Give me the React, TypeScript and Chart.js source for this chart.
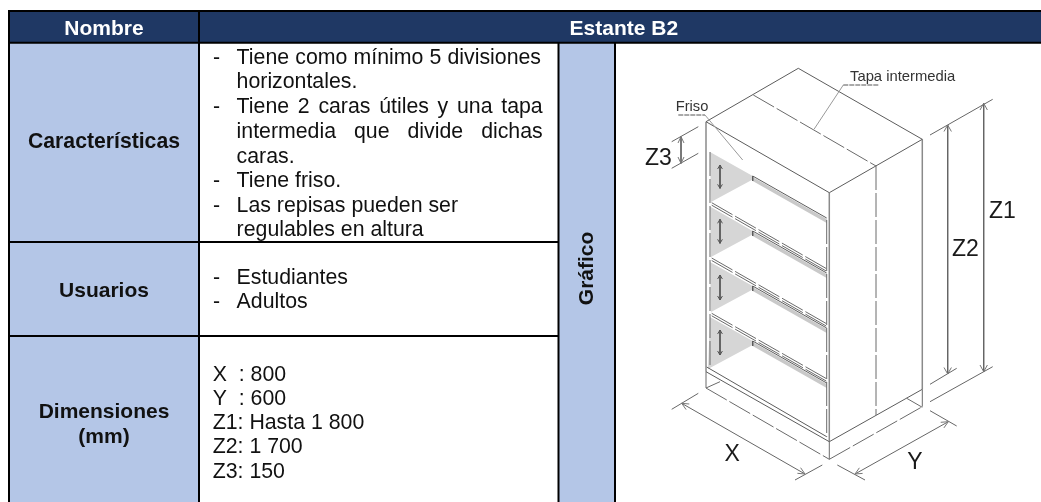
import React, { useEffect, useRef } from "react";
import { Chart, registerables } from "chart.js";

Chart.register(...registerables);

// ---- content ----
const HEADER_LABELS = ["Nombre", "Estante B2"];
const ROW_LABELS = ["Características", "Usuarios", "Dimensiones", "(mm)"];
const SIDE_LABEL = "Gráfico";
const FEATURE_LINES = [
  "Tiene como mínimo 5 divisiones",
  "horizontales.",
  "Tiene 2 caras útiles y una tapa",
  "intermedia que divide dichas",
  "caras.",
  "Tiene friso.",
  "Las repisas pueden ser",
  "regulables en altura",
];
const USER_LINES = ["Estudiantes", "Adultos"];
const DIMENSION_LINES = ["X  : 800", "Y  : 600", "Z1: Hasta 1 800", "Z2: 1 700", "Z3: 150"];
const DIAGRAM_NOTES = ["Friso", "Tapa intermedia"];
const DIAGRAM_SYMBOLS = ["Z1", "Z2", "Z3", "X", "Y"];

// ---- drawing data, in the units of the x and y scales ----
type P = [number, number];
const CELL_HEADER: P[] = [[9, 11], [1041, 11], [1041, 42.7], [9, 42.7]];
const CELL_LABELS: P[] = [[9, 42.7], [199, 42.7], [199, 502], [9, 502]];
const CELL_SIDE: P[] = [[558.5, 42.7], [615, 42.7], [615, 502], [558.5, 502]];
const TABLE_RULES: P[][] = [
  [[9, 11], [1041, 11]],
  [[9, 42.7], [1041, 42.7]],
  [[9, 10], [9, 502]],
  [[199, 11], [199, 502]],
  [[558.5, 42.7], [558.5, 502]],
  [[615, 42.7], [615, 502]],
  [[9, 242], [558.5, 242]],
  [[9, 336], [558.5, 336]],
];
const SIDE_TRIANGLES: P[][] = [
  [[710, 152], [752.7, 176], [752.7, 179.5], [711, 202]],
  [[710, 206.5], [752.7, 231], [752.7, 234.5], [711, 257]],
  [[710, 262], [752.7, 286], [752.7, 289.5], [711, 312]],
  [[710, 317], [752.7, 341], [752.7, 345], [708, 369]],
];
const SHELF_BANDS: P[][] = [
  [[752.7, 177], [826.7, 219], [826.7, 223], [752.7, 181]],
  [[752.7, 232], [826.7, 274], [826.7, 278], [752.7, 236]],
  [[752.7, 287], [826.7, 329], [826.7, 333], [752.7, 291]],
  [[752.7, 342], [826.7, 384], [826.7, 388], [752.7, 346]],
];
const OUTLINE: P[][] = [
  [[706, 121.7], [798.3, 68.3], [922.3, 139.3], [829.3, 192.7], [706, 121.7]],
  [[829.3, 441.7], [922.3, 389.3]],
  [[706, 371.7], [829.3, 441.7]],
  [[706.7, 367], [826.7, 436.7]],
  [[752.7, 176], [826.7, 218]],
  [[752.7, 231], [826.7, 273]],
  [[752.7, 286], [826.7, 328]],
  [[752.7, 341], [826.7, 383]],
  [[752.7, 176], [752.7, 181]],
  [[752.7, 231], [752.7, 236]],
  [[752.7, 286], [752.7, 291]],
  [[752.7, 341], [752.7, 346]],
];
const EDGES: P[][] = [
  [[706, 121.7], [706, 371.7]],
  [[829.3, 192.7], [829.3, 441.7]],
  [[922.3, 139.3], [922.3, 389.3]],
];
const HIDDEN_LINES: P[][] = [
  [[753.3, 95], [876, 166]],
  [[876, 166], [876, 415]],
  [[826.7, 220], [826.7, 436.7]],
  [[710, 152], [710, 368]],
  [[711.7, 202.7], [826.7, 268.8]],
  [[711.7, 205.2], [826.7, 271.3]],
  [[711.7, 258], [826.7, 323.8]],
  [[711.7, 260.5], [826.7, 326.3]],
  [[711.7, 313.3], [826.7, 378.8]],
  [[711.7, 315.8], [826.7, 381.3]],
  [[706, 388], [829.3, 459.3]],
  [[829.3, 459.3], [922.3, 406.7]],
  [[706, 371.7], [706, 388]],
  [[829.3, 441.7], [829.3, 459.3]],
  [[922.3, 389.3], [922.3, 406.7]],
  [[706, 388], [720, 381.7]],
  [[906.7, 398.3], [922.3, 407.3]],
];
const DIMENSION_RULES: P[][] = [
  [[983.7, 103.3], [983.7, 371.7]],
  [[947.7, 125], [947.7, 374]],
  [[930, 135], [992.7, 99.3]],
  [[930, 401.7], [992.7, 366.7]],
  [[930, 384.3], [956.7, 368.3]],
  [[681, 136.7], [681, 163.3]],
  [[671.7, 141.7], [698.3, 126.7]],
  [[671.7, 168.3], [698.3, 153.3]],
  [[681.7, 403.3], [805, 474]],
  [[671.7, 409.3], [698.3, 393.3]],
  [[795, 480], [822.3, 465]],
  [[855, 474], [948.3, 421.7]],
  [[837.3, 465], [865, 480]],
  [[930, 410.7], [956.7, 426]],
];
const ARROW_HEADS: P[][] = [
  [[980, 110], [983.7, 103.3], [987.4, 110]],
  [[980, 365], [983.7, 371.7], [987.4, 365]],
  [[944, 131.5], [947.7, 125], [951.4, 131.5]],
  [[944, 367.5], [947.7, 374], [951.4, 367.5]],
  [[678, 143], [681, 136.7], [684, 143]],
  [[678, 157], [681, 163.3], [684, 157]],
  [[686.1, 409.6], [681.7, 403.3], [689.3, 404]],
  [[797.4, 473.3], [805, 474], [800.6, 467.7]],
  [[862.6, 473.4], [855, 474], [859.4, 467.8]],
  [[943.9, 427.9], [948.3, 421.7], [940.7, 422.3]],
];
const ADJUST_ARROWS: P[][] = [
  [[720, 165], [720, 188.3]],
  [[717.6, 169], [720, 165], [722.4, 169]],
  [[717.6, 184.3], [720, 188.3], [722.4, 184.3]],
  [[720, 219.3], [720, 243.3]],
  [[717.6, 223.3], [720, 219.3], [722.4, 223.3]],
  [[717.6, 239.3], [720, 243.3], [722.4, 239.3]],
  [[720, 275], [720, 300]],
  [[717.6, 279], [720, 275], [722.4, 279]],
  [[717.6, 296], [720, 300], [722.4, 296]],
  [[720, 330], [720, 355]],
  [[717.6, 334], [720, 330], [722.4, 334]],
  [[717.6, 351], [720, 355], [722.4, 351]],
];
const LEADERS: P[][] = [
  [[705, 115], [742.7, 160]],
  [[814, 129.3], [843.3, 85]],
];
const LEADER_UNDERLINES: P[][] = [
  [[678.3, 115], [705, 115]],
  [[843.3, 85], [879.3, 85]],
];

// ---- styles and text layout ----
const SANS = '"Liberation Sans", Arial, sans-serif';
const NAVY = "#1F3864";
const PALE = "#B4C6E7";

type Item = {
  t: string; x: number; y: number; size: number; bold?: boolean;
  color?: string; align?: CanvasTextAlign; to?: number; rot?: boolean;
};
const BODY = 21.3;
const LABEL = 21;
const featureY = [64, 88.3, 113.3, 137.7, 162.7, 186.7, 211.7, 235.5];
const featureDash = [0, 2, 5, 6];
const featureJustify: Record<number, number> = { 0: 541, 2: 542.7, 3: 542.7 };
const items: Item[] = [
  { t: HEADER_LABELS[0], x: 104, y: 35, size: LABEL, bold: true, color: "#fff", align: "center" },
  { t: HEADER_LABELS[1], x: 623.8, y: 35, size: LABEL, bold: true, color: "#fff", align: "center" },
  { t: ROW_LABELS[0], x: 104, y: 148.3, size: LABEL + 0.2, bold: true, align: "center" },
  { t: ROW_LABELS[1], x: 104, y: 296.7, size: LABEL, bold: true, align: "center" },
  { t: ROW_LABELS[2], x: 104, y: 418.3, size: LABEL, bold: true, align: "center" },
  { t: ROW_LABELS[3], x: 104, y: 443.3, size: LABEL, bold: true, align: "center" },
  { t: SIDE_LABEL, x: 593.3, y: 268.4, size: LABEL, bold: true, align: "center", rot: true },
  ...FEATURE_LINES.map((t, i) => ({ t, x: 236.6, y: featureY[i], size: BODY, to: featureJustify[i] })),
  ...featureDash.map((i) => ({ t: "-", x: 213, y: featureY[i], size: BODY })),
  ...USER_LINES.map((t, i) => ({ t, x: 236.6, y: [284, 308.3][i], size: BODY })),
  { t: "-", x: 213, y: 284, size: BODY },
  { t: "-", x: 213, y: 308.3, size: BODY },
  ...DIMENSION_LINES.map((t, i) => ({ t, x: 212.7, y: [381, 405, 429.3, 453.3, 478.3][i], size: BODY })),
  { t: DIAGRAM_NOTES[0], x: 675.7, y: 110.7, size: 14.7, color: "#333" },
  { t: DIAGRAM_NOTES[1], x: 850, y: 81, size: 14.8, color: "#333" },
  { t: DIAGRAM_SYMBOLS[0], x: 989, y: 218, size: 23, color: "#1a1a1a" },
  { t: DIAGRAM_SYMBOLS[1], x: 952, y: 255.7, size: 23, color: "#1a1a1a" },
  { t: DIAGRAM_SYMBOLS[2], x: 645, y: 165, size: 23, color: "#1a1a1a" },
  { t: DIAGRAM_SYMBOLS[3], x: 724.5, y: 460.7, size: 23, color: "#1a1a1a" },
  { t: DIAGRAM_SYMBOLS[4], x: 907.3, y: 469.3, size: 23, color: "#1a1a1a" },
];

const textPlugin = {
  id: "tableText",
  afterDatasetsDraw(chart: any) {
    const { ctx, scales } = chart;
    ctx.save();
    ctx.textBaseline = "alphabetic";
    for (const it of items) {
      const px = scales.x.getPixelForValue(it.x);
      const py = scales.y.getPixelForValue(it.y);
      ctx.font = `${it.bold ? "bold " : ""}${it.size}px ${SANS}`;
      ctx.fillStyle = it.color || "#111";
      ctx.textAlign = it.align || "left";
      if (it.rot) {
        ctx.save();
        ctx.translate(px, py);
        ctx.rotate(-Math.PI / 2);
        ctx.fillText(it.t, 0, 0);
        ctx.restore();
      } else if (it.to) {
        const words = it.t.split(" ");
        const total = words.reduce((s: number, w: string) => s + ctx.measureText(w).width, 0);
        const gap = (scales.x.getPixelForValue(it.to) - px - total) / (words.length - 1);
        let cx = px;
        for (const w of words) {
          ctx.fillText(w, cx, py);
          cx += ctx.measureText(w).width + gap;
        }
      } else {
        ctx.fillText(it.t, px, py);
      }
    }
    ctx.restore();
  },
};

const pts = (line: P[]) => line.map(([x, y]) => ({ x, y }));
const poly = (line: P[], color: string) => ({
  data: pts([...line, line[0]]), showLine: true, fill: "shape", backgroundColor: color,
  borderColor: color, borderWidth: 0, pointRadius: 0,
});
const lines = (group: P[][], color: string, width: number, dash: number[] = []) =>
  group.map((line) => ({
    data: pts(line), showLine: true, fill: false, borderColor: color, borderWidth: width,
    borderDash: dash, pointRadius: 0, tension: 0,
  }));

export default function App() {
  const ref = useRef<HTMLCanvasElement>(null);
  useEffect(() => {
    document.body.style.margin = "0";
    const bottomFirst = [
      poly(CELL_HEADER, NAVY),
      poly(CELL_LABELS, PALE),
      poly(CELL_SIDE, PALE),
      ...lines(TABLE_RULES, "#000", 2),
      ...SIDE_TRIANGLES.map((t) => poly(t, "#D6D6D6")),
      ...SHELF_BANDS.map((t) => poly(t, "#C9C9C9")),
      ...lines(EDGES, "#8a8a8a", 1.5),
      ...lines(OUTLINE, "#5c5c5c", 1),
      ...lines(HIDDEN_LINES, "#6a6a6a", 1, [24, 3]),
      ...lines(DIMENSION_RULES, "#666", 1),
      ...lines(ARROW_HEADS, "#777", 1),
      ...lines(ADJUST_ARROWS, "#555", 1),
      ...lines(LEADERS, "#999", 1),
      ...lines(LEADER_UNDERLINES, "#555", 1, [5, 1]),
    ];
    const chart = new Chart(ref.current!, {
      type: "scatter",
      data: { datasets: bottomFirst.reverse() as any },
      options: {
        animation: false,
        responsive: false,
        devicePixelRatio: 1,
        layout: { padding: 0 },
        events: [],
        scales: {
          x: { type: "linear", min: 0, max: 1041, display: false },
          y: { type: "linear", min: 0, max: 502, reverse: true, display: false },
        },
        plugins: { legend: { display: false }, tooltip: { enabled: false } },
      },
      plugins: [textPlugin],
    } as any);
    return () => chart.destroy();
  }, []);
  return (
    <div style={{ position: "fixed", left: 0, top: 0, width: 1041, height: 502, background: "#fff" }}>
      <canvas ref={ref} width={1041} height={502} style={{ display: "block", filter: "blur(0.35px)" }} />
    </div>
  );
}
